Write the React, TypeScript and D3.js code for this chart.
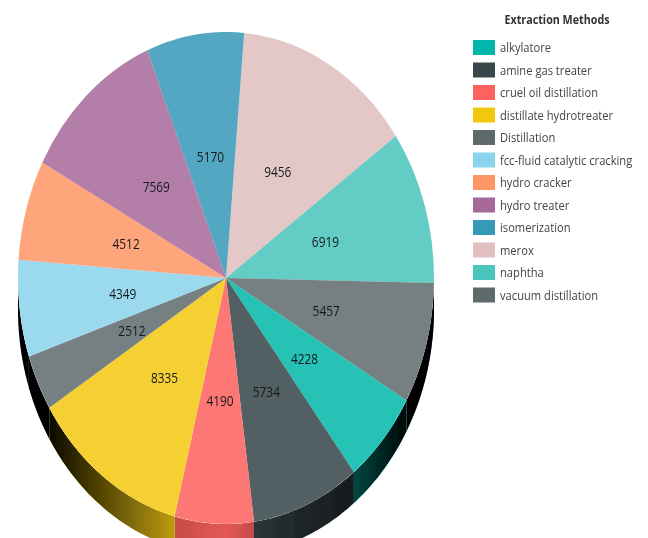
import React from "react";
import * as d3 from "d3";

const categories = ["merox", "naphtha", "vacuum distillation", "alkylatore", "amine gas treater", "cruel oil distillation", "distillate hydrotreater", "Distillation", "fcc-fluid catalytic cracking", "hydro cracker", "hydro treater", "isomerization"];
const values = [9456, 6919, 5457, 4228, 5734, 4190, 8335, 2512, 4349, 4512, 7569, 5170];
const colors = ["#dfbfbf", "#4ac5bb", "#5f6b6d", "#01b8aa", "#374649", "#fd625e", "#f2c80f", "#5f6b6d", "#8ad4eb", "#fe9666", "#a66999", "#3599b8"];
const legendOrder = ["alkylatore", "amine gas treater", "cruel oil distillation", "distillate hydrotreater", "Distillation", "fcc-fluid catalytic cracking", "hydro cracker", "hydro treater", "isomerization", "merox", "naphtha", "vacuum distillation"];
const shadeX = [18, 50, 110, 175, 226, 300, 352, 405, 434];
const shadeAlpha = [1, 0.95, 0.6, 0.22, 0.1, 0.45, 0.6, 0.95, 1];

const cx = 226, cy = 278, rx = 208, ry = 246, depth = 31;
const FONT = "'Open Sans', 'Noto Sans', sans-serif";

export default function App() {
  const pie = d3.pie<number>().sort(null).startAngle((5 * Math.PI) / 180).endAngle((365 * Math.PI) / 180);
  const slices = pie(values);
  const arc = d3.arc<d3.PieArcDatum<number>>().innerRadius(0).outerRadius(rx);
  const line = d3.line();
  const legendY = d3.scaleLinear().domain([0, 11]).range([47.5, 295]);

  const wall = (a0: number, a1: number) => {
    const lo = Math.max(a0, Math.PI / 2), hi = Math.min(a1, (3 * Math.PI) / 2);
    if (hi <= lo) return null;
    const angles = d3.range(0, 41).map((i) => lo + ((hi - lo) * i) / 40);
    const top = angles.map((a) => [cx + rx * Math.sin(a), cy - ry * Math.cos(a)] as [number, number]);
    const bottom = top.slice().reverse().map(([x, y]) => [x, y + depth] as [number, number]);
    return line([...top, ...bottom]) + "Z";
  };

  return (
    <svg width={648} height={538} style={{ position: "absolute", left: 0, top: 0 }}>
      <defs>
        <linearGradient id="shade" gradientUnits="userSpaceOnUse" x1={shadeX[0]} x2={shadeX[shadeX.length - 1]} y1={0} y2={0}>
          {shadeX.map((x, i) => (
            <stop key={x} offset={(x - shadeX[0]) / (shadeX[shadeX.length - 1] - shadeX[0])} stopColor="#000" stopOpacity={shadeAlpha[i]} />
          ))}
        </linearGradient>
        <filter id="soft" x="-5%" y="-5%" width="110%" height="110%">
          <feGaussianBlur stdDeviation="0.6" />
        </filter>
      </defs>
      <g filter="url(#soft)">
        {slices.map((s, i) => {
          const d = wall(s.startAngle, s.endAngle);
          return d ? (
            <g key={categories[i]}>
              <path d={d} fill={colors[i]} />
              <path d={d} fill="url(#shade)" />
            </g>
          ) : null;
        })}
        <g transform={`translate(${cx},${cy}) scale(1,${ry / rx})`}>
          <ellipse rx={rx} ry={rx} fill="#fff" />
          {slices.map((s, i) => (
            <path key={categories[i]} d={arc(s) as string} fill={colors[i]} fillOpacity={0.86} />
          ))}
        </g>
        {slices.map((s, i) => {
          const [x, y] = arc.centroid(s);
          return (
            <text key={categories[i]} transform={`translate(${cx + x},${cy + (y * ry) / rx}) scale(0.85,1)`} textAnchor="middle" dominantBaseline="central" fontFamily={FONT} fontSize={14} fill="#14191c">
              {values[i]}
            </text>
          );
        })}
        <text transform="translate(557,19) scale(0.86,1)" textAnchor="middle" dominantBaseline="central" fontFamily={FONT} fontSize={12.5} fontWeight={700} fill="#333">
          Extraction Methods
        </text>
        {legendOrder.map((name, i) => (
          <g key={name} transform={`translate(0,${legendY(i)})`}>
            <rect x={473} y={-7.5} width={22} height={15} fill={colors[categories.indexOf(name)]} />
            <text transform="translate(500,0) scale(0.86,1)" dominantBaseline="central" fontFamily={FONT} fontSize={13} fill="#444">
              {name}
            </text>
          </g>
        ))}
      </g>
    </svg>
  );
}
